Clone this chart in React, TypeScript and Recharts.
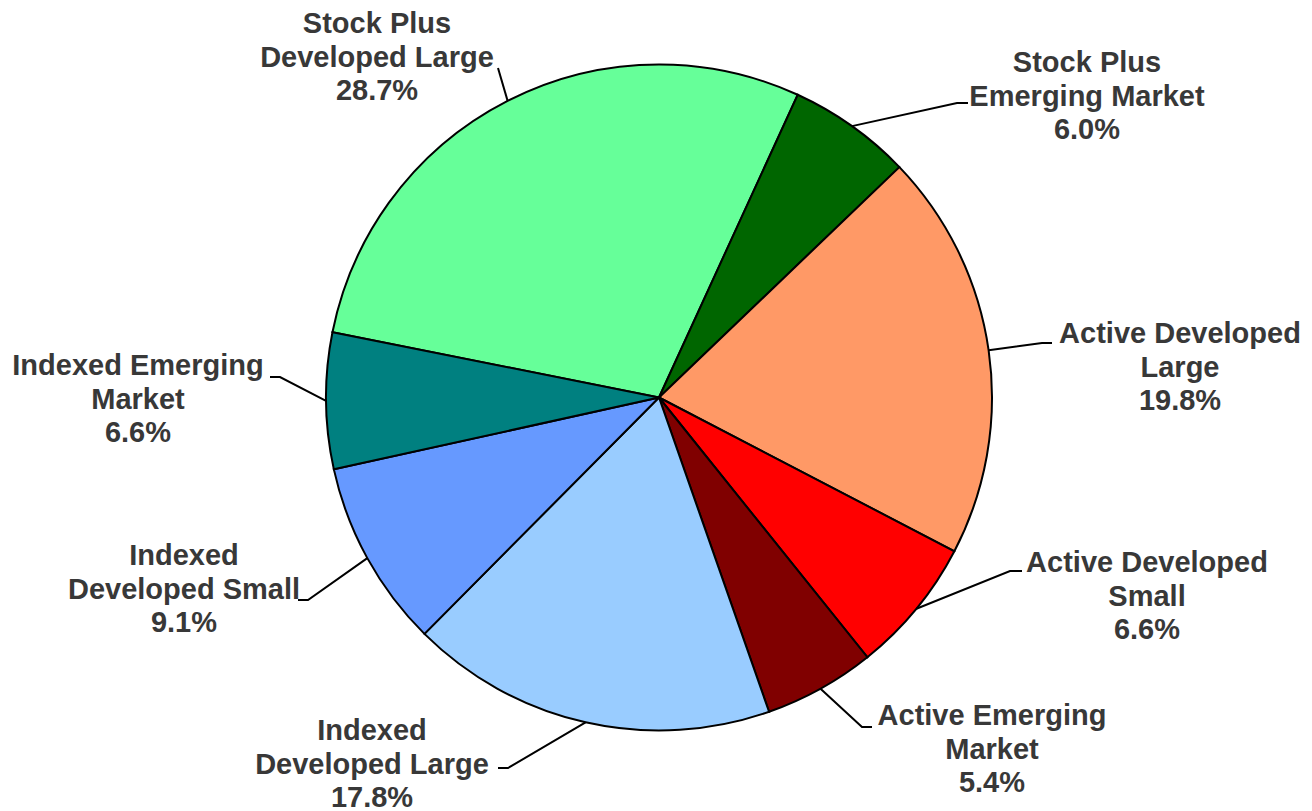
import React from "react";
import { PieChart, Pie, Cell } from "recharts";

const categories = [
  "Stock Plus\nDeveloped Large",
  "Stock Plus\nEmerging Market",
  "Active Developed\nLarge",
  "Active Developed\nSmall",
  "Active Emerging\nMarket",
  "Indexed\nDeveloped Large",
  "Indexed\nDeveloped Small",
  "Indexed Emerging\nMarket",
];

const shares = [28.7, 6.0, 19.8, 6.6, 5.4, 17.8, 9.1, 6.6];

const colors = [
  "#66FF99",
  "#006600",
  "#FF9966",
  "#FF0000",
  "#800000",
  "#99CCFF",
  "#6699FF",
  "#008080",
];

// label placement: text centre x, first baseline y, leader elbow, stub end x
const labelLayout = [
  { x: 377, y: 33, ex: 498, ey: 68, sx: null as number | null },
  { x: 1087, y: 72, ex: 957, ey: 103, sx: 968 },
  { x: 1180, y: 343, ex: 1042, ey: 343, sx: 1052 },
  { x: 1147, y: 572, ex: 1010, ey: 571, sx: 1022 },
  { x: 992, y: 725, ex: 862, ey: 727, sx: 872 },
  { x: 372, y: 740, ex: 508, ey: 768, sx: 498 },
  { x: 184, y: 565, ex: 308, ey: 600, sx: 298 },
  { x: 138, y: 375, ex: 280, ey: 377, sx: 270 },
];

const data = categories.map((name, i) => ({ name, value: shares[i] }));

const RAD = Math.PI / 180;
const LINE_H = 33.5;
const MARGIN = 5;

function renderLabel(props: any) {
  const { cx, cy, midAngle, outerRadius, index, value, name } = props;
  const layout = labelLayout[index];
  const px = cx + outerRadius * Math.cos(-midAngle * RAD);
  const py = cy + outerRadius * Math.sin(-midAngle * RAD);
  const lines = [...String(name).split("\n"), `${Number(value).toFixed(1)}%`];
  let pts = `${px},${py} ${layout.ex},${layout.ey}`;
  if (layout.sx !== null) pts += ` ${layout.sx},${layout.ey}`;
  return (
    <g key={`lbl-${index}`}>
      <polyline points={pts} fill="none" stroke="#000" strokeWidth={2} />
      {lines.map((ln, j) => (
        <text
          key={j}
          x={layout.x}
          y={layout.y + j * LINE_H}
          textAnchor="middle"
          fill="#383838"
          fontFamily="'Liberation Sans', Arial, sans-serif"
          fontWeight="bold"
          fontSize={29}
        >
          {ln}
        </text>
      ))}
    </g>
  );
}

export default function App() {
  return (
    <div style={{ position: "fixed", left: 0, top: 0, background: "#fff" }}>
      <PieChart
        width={1312}
        height={811}
        margin={{ top: MARGIN, right: MARGIN, bottom: MARGIN, left: MARGIN }}
      >
        <Pie
          data={data}
          dataKey="value"
          nameKey="name"
          cx={659 - MARGIN}
          cy={397.5 - MARGIN}
          outerRadius={333}
          startAngle={168.7}
          endAngle={-191.3}
          stroke="#000"
          strokeWidth={2}
          label={renderLabel}
          labelLine={false}
          isAnimationActive={false}
        >
          {data.map((d, i) => (
            <Cell key={d.name} fill={colors[i]} />
          ))}
        </Pie>
      </PieChart>
    </div>
  );
}
